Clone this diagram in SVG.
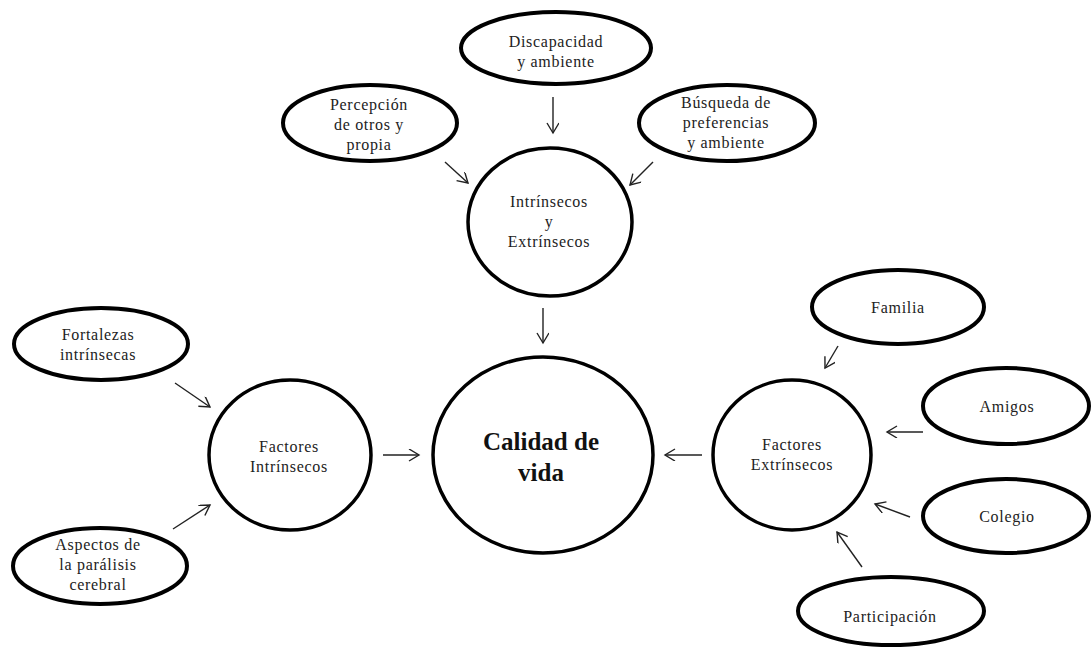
<svg xmlns="http://www.w3.org/2000/svg" width="1091" height="647" viewBox="0 0 1091 647">
<defs>
<marker id="arr" markerUnits="userSpaceOnUse" markerWidth="14" markerHeight="14" refX="11" refY="6" orient="auto">
<path d="M1,0 L11,6 L1,12" fill="none" stroke="#222" stroke-width="1.4"/>
</marker>
<style>
.n{fill:#fff;stroke:#000;stroke-width:4}
.c{fill:#fff;stroke:#000;stroke-width:3.5}
.t{font-family:"Liberation Serif","Times New Roman",serif;font-size:16px;letter-spacing:0.7px;fill:#222;text-anchor:middle}
.b{font-family:"Liberation Serif","Times New Roman",serif;font-size:25px;font-weight:bold;fill:#111;text-anchor:middle}
.e line{stroke:#222;stroke-width:1.4;marker-end:url(#arr)}
</style>
</defs>
<rect width="1091" height="647" fill="#fff"/>
<g class="e" id="connectors">
<line x1="553" y1="97" x2="553" y2="133"/>
<line x1="445" y1="162" x2="468" y2="183"/>
<line x1="653" y1="162" x2="630" y2="185"/>
<line x1="543" y1="308" x2="543" y2="343"/>
<line x1="175" y1="383" x2="210" y2="407"/>
<line x1="173" y1="529" x2="210" y2="505"/>
<line x1="383" y1="455" x2="419" y2="455"/>
<line x1="702" y1="455" x2="665" y2="455"/>
<line x1="838" y1="346" x2="825" y2="368"/>
<line x1="923" y1="432" x2="887" y2="432"/>
<line x1="910" y1="517" x2="875" y2="504"/>
<line x1="862" y1="567" x2="837" y2="532"/>
</g>
<g id="discapacidad"><ellipse class="n" cx="556" cy="48" rx="95" ry="36"/><text class="t" x="556" y="47">Discapacidad</text><text class="t" x="556" y="67">y ambiente</text></g>
<g id="percepcion"><ellipse class="n" cx="370" cy="123" rx="87" ry="38"/><text class="t" x="369" y="110">Percepción</text><text class="t" x="369" y="130">de otros y</text><text class="t" x="369" y="150">propia</text></g>
<g id="busqueda"><ellipse class="n" cx="727" cy="123" rx="88" ry="38"/><text class="t" x="726" y="108">Búsqueda de</text><text class="t" x="726" y="128">preferencias</text><text class="t" x="726" y="148">y ambiente</text></g>
<g id="intrinsecos-extrinsecos"><ellipse class="c" cx="550" cy="222" rx="82" ry="74"/><text class="t" x="549" y="207">Intrínsecos</text><text class="t" x="549" y="227">y</text><text class="t" x="549" y="247">Extrínsecos</text></g>
<g id="calidad"><ellipse class="c" cx="543" cy="455" rx="110" ry="98"/><text class="b" x="541" y="450">Calidad de</text><text class="b" x="541" y="481">vida</text></g>
<g id="fortalezas"><ellipse class="n" cx="101" cy="344" rx="87" ry="36"/><text class="t" x="98" y="340">Fortalezas</text><text class="t" x="98" y="360">intrínsecas</text></g>
<g id="aspectos"><ellipse class="n" cx="100" cy="566" rx="87" ry="38"/><text class="t" x="98" y="550">Aspectos de</text><text class="t" x="98" y="570">la parálisis</text><text class="t" x="98" y="590">cerebral</text></g>
<g id="factores-intrinsecos"><ellipse class="c" cx="290" cy="455" rx="81" ry="75"/><text class="t" x="289" y="452">Factores</text><text class="t" x="289" y="472">Intrínsecos</text></g>
<g id="factores-extrinsecos"><ellipse class="c" cx="792" cy="455" rx="79" ry="75"/><text class="t" x="792" y="450">Factores</text><text class="t" x="792" y="470">Extrínsecos</text></g>
<g id="familia"><ellipse class="n" cx="898" cy="307" rx="86" ry="37"/><text class="t" x="898" y="313">Familia</text></g>
<g id="amigos"><ellipse class="n" cx="1006" cy="406" rx="83" ry="38"/><text class="t" x="1007" y="412">Amigos</text></g>
<g id="colegio"><ellipse class="n" cx="1006" cy="516" rx="83" ry="37"/><text class="t" x="1007" y="522">Colegio</text></g>
<g id="participacion"><ellipse class="n" cx="891" cy="611" rx="93" ry="34"/><text class="t" x="890" y="622">Participación</text></g>
</svg>
